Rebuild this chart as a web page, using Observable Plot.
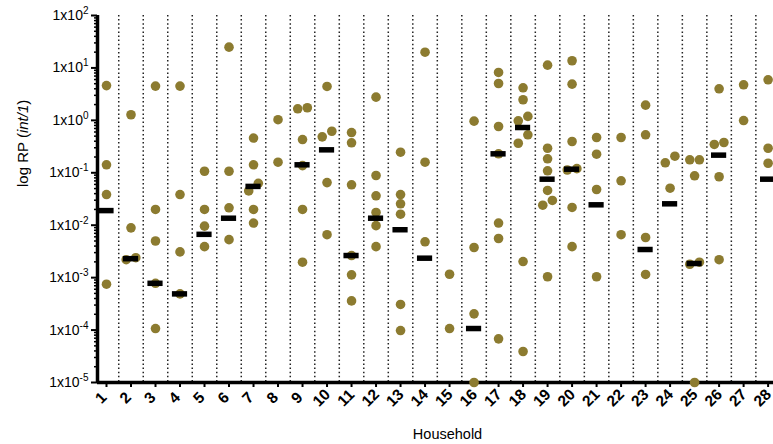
<!DOCTYPE html>
<html><head><meta charset="utf-8">
<script src="https://cdn.jsdelivr.net/npm/d3@7"></script>
<script src="https://cdn.jsdelivr.net/npm/@observablehq/plot@0.6"></script>
<style>body{margin:0;background:#fff} svg{display:block}</style>
</head><body><div id="chart"></div>
<script>
// ---- data ----
const households = [1,2,3,4,5,6,7,8,9,10,11,12,13,14,15,16,17,18,19,20,21,22,23,24,25,26,27,28];
const rpValues = [
  [4.6, 0.142, 0.0385, 7.5e-4],
  [1.28, 0.0089, 0.0024, 0.0022],
  [4.5, 0.020, 0.005, 7.8e-4, 1.07e-4],
  [4.5, 0.0385, 0.0031, 4.9e-4],
  [0.107, 0.020, 0.0096, 0.0039],
  [24.9, 0.107, 0.0215, 0.0053],
  [0.46, 0.142, 0.063, 0.045, 0.020, 0.011],
  [1.03, 0.159],
  [1.74, 1.66, 0.43, 0.137, 0.020, 0.00197],
  [4.43, 0.62, 0.485, 0.065, 0.0066],
  [0.586, 0.373, 0.059, 0.00264, 0.00113, 3.6e-4],
  [2.77, 0.0887, 0.0364, 0.0175, 0.0098, 0.0039],
  [0.247, 0.0385, 0.0256, 0.0162, 3.08e-4, 9.8e-5],
  [19.95, 0.159, 0.00483],
  [0.00116, 1.07e-4],
  [0.965, 0.00376, 2.04e-4, 1e-5],
  [8.2, 5.05, 0.763, 0.23, 0.011, 0.00558, 6.8e-5],
  [4.18, 2.47, 1.19, 0.98, 0.53, 0.366, 0.00203, 3.9e-5],
  [11.3, 0.294, 0.185, 0.109, 0.046, 0.0297, 0.0241, 0.00104],
  [13.7, 4.9, 0.395, 0.12, 0.113, 0.0218, 0.0039],
  [0.471, 0.226, 0.048, 0.00104],
  [0.471, 0.0703, 0.0066],
  [1.95, 0.53, 0.00583, 0.00115],
  [0.207, 0.155, 0.0508],
  [0.177, 0.177, 0.0877, 0.00197, 0.0018, 1e-5],
  [4.0, 0.378, 0.347, 0.084, 0.0022],
  [4.77, 0.992],
  [5.94, 0.294, 0.152]
];
const medianRP = [0.019, 0.0023, 7.8e-4, 4.9e-4, 0.0067, 0.0136, 0.055, null, 0.142, 0.274,
  0.00264, 0.0136, 0.0082, 0.00235, null, 1.07e-4, 0.23, 0.73, 0.0755, 0.117,
  0.0245, null, 0.00344, 0.0256, 0.00186, 0.217, null, 0.0755];
const yTickValues = [1e-5, 1e-4, 1e-3, 1e-2, 1e-1, 1e0, 1e1, 1e2];
const yTickExponents = ["-5", "-4", "-3", "-2", "-1", "0", "1", "2"];
const xTitle = "Household";
const yTitle = "log RP (int/1)";

// ---- layout ----
const W = 773, H = 444, mL = 97, mR = 0, mT = 15, mB = 62;
const xDomain = [0.633, 28.22];
const R = 4.8;
const yPix = d3.scaleLog().domain([1e-5, 1e2]).range([H - mB, mT]);
const pxPerUnit = (W - mL - mR) / (xDomain[1] - xDomain[0]);

// simple symmetric swarm layout within each household
const points = [];
households.forEach((h, i) => {
  const vals = rpValues[i].slice().sort((a, b) => b - a);
  const placed = [];
  const s = 2 * R;
  for (const v of vals) {
    const y = yPix(v);
    let off = 0;
    for (const c of [0, -s, s, -2 * s, 2 * s]) {
      if (placed.every(p => (c - p.o) ** 2 + (y - p.y) ** 2 >= (2 * R - 0.6) ** 2)) { off = c; break; }
    }
    placed.push({ v, y, o: off });
  }
  placed.sort((a, b) => a.y - b.y);
  let cluster = [];
  const flush = () => {
    if (cluster.length > 1) { const m = d3.mean(cluster, p => p.o); cluster.forEach(p => p.o -= m); }
    cluster = [];
  };
  placed.forEach((p, k) => { if (k > 0 && p.y - placed[k - 1].y >= 2 * R) flush(); cluster.push(p); });
  flush();
  placed.forEach(p => points.push({ household: h, rp: p.v, dx: p.o / pxPerUnit }));
});

const medianRows = households.map((h, i) => ({ household: h, rp: medianRP[i] })).filter(d => d.rp != null);
const minorTicks = [];
for (let e = -5; e < 2; e++) for (let m = 2; m <= 9; m++) minorTicks.push(m * Math.pow(10, e));

const chart = Plot.plot({
  width: W, height: H, marginLeft: mL, marginRight: mR, marginTop: mT, marginBottom: mB,
  style: { fontFamily: "'Liberation Sans', Arial, sans-serif", fontSize: "14px", background: "#fff", color: "#000" },
  x: { type: "linear", domain: xDomain, axis: null },
  y: { type: "log", domain: [1e-5, 1e2], axis: null },
  marks: [
    Plot.ruleX(households.slice(0, -1), { x: d => d + 0.5, stroke: "#222", strokeWidth: 1.5, strokeDasharray: "1.5,2.6" }),
    Plot.axisY(minorTicks, { tickSize: 3, tickFormat: () => "", strokeWidth: 1.5, label: null }),
    Plot.axisY(yTickValues, { tickSize: 6, tickPadding: 3, strokeWidth: 2, fontSize: 14, label: null,
      tickFormat: (d) => "1x10^" + yTickExponents[yTickValues.indexOf(d)] }),
    Plot.axisX(households, { tickSize: 5, tickFormat: () => "", strokeWidth: 2, label: null }),
    Plot.text(households, { x: d => d, frameAnchor: "bottom", dy: 19, dx: -2, rotate: -45, text: d => String(d),
      fontSize: 15.5, fontWeight: "bold" }),
    Plot.ruleX([xDomain[0]], { stroke: "#000", strokeWidth: 3.5 }),
    Plot.ruleY([1e-5], { stroke: "#000", strokeWidth: 3.5 }),
    Plot.dot(points, { x: d => d.household + d.dx, y: "rp", r: R, fill: "#8c7b30", stroke: "none" }),
    Plot.ruleY(medianRows, { y: "rp", x1: d => d.household - 0.31, x2: d => d.household + 0.31,
      stroke: "#000", strokeWidth: 5.5 }),
    Plot.text([xTitle], { frameAnchor: "bottom", dy: 56, dx: 12, fontSize: 14.5 }),
    Plot.text([yTitle], { frameAnchor: "left", dx: -74, dy: -12, rotate: -90, fontSize: 15 })
  ]
});
document.getElementById("chart").appendChild(chart);

// superscript exponents on y tick labels, italic part of y title
const NS = "http://www.w3.org/2000/svg";
chart.querySelectorAll("text").forEach(t => {
  const s = t.textContent;
  const m = s.match(/^1x10\^(.*)$/);
  if (m) {
    t.textContent = "";
    const a = document.createElementNS(NS, "tspan"); a.textContent = "1x10"; t.appendChild(a);
    const b = document.createElementNS(NS, "tspan"); b.textContent = m[1];
    b.setAttribute("dy", "-6"); b.setAttribute("font-size", "10"); t.appendChild(b);
  } else if (s === yTitle) {
    t.textContent = "";
    const parts = [["log RP (", false], ["int/1", true], [")", false]];
    for (const [txt, it] of parts) {
      const sp = document.createElementNS(NS, "tspan"); sp.textContent = txt;
      if (it) sp.setAttribute("font-style", "italic");
      t.appendChild(sp);
    }
  }
});
</script>
</body></html>
